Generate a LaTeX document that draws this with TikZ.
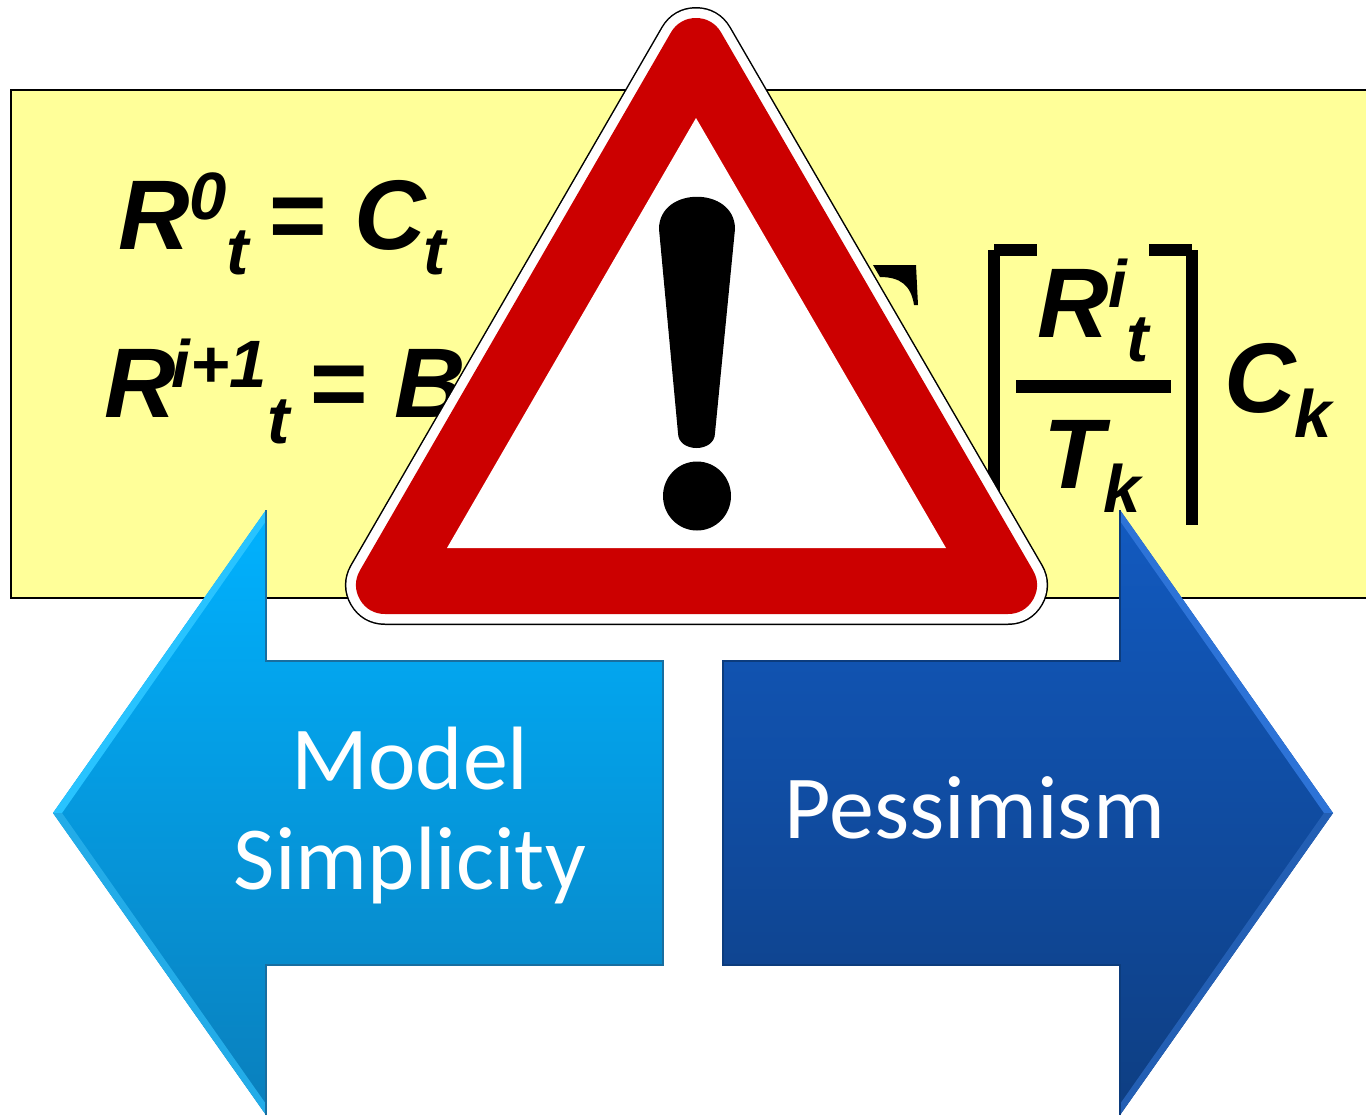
\documentclass[tikz,border=0pt]{standalone}
\usepackage{fontspec}
\setmainfont{Liberation Sans}
\newfontfamily\arrowfont{Carlito}
\usetikzlibrary{positioning}
\definecolor{notepale}{RGB}{255,255,153}
\definecolor{signred}{RGB}{204,0,0}
\definecolor{skytop}{RGB}{0,178,255}
\definecolor{skymid}{RGB}{3,172,250}
\definecolor{skybot}{RGB}{10,127,188}
\definecolor{skylite}{RGB}{40,195,255}
\definecolor{skyshade}{RGB}{35,172,232}
\definecolor{skydark}{RGB}{24,110,160}
\definecolor{navytop}{RGB}{18,90,192}
\definecolor{navymid}{RGB}{17,80,170}
\definecolor{navybot}{RGB}{14,62,130}
\definecolor{navylite}{RGB}{45,115,215}
\definecolor{navyshade}{RGB}{35,95,180}
\definecolor{navydark}{RGB}{12,60,125}

\begin{document}
\begin{tikzpicture}[x=0.5pt, y=-0.5pt,
      eqbig/.style={anchor=base west, inner sep=0pt, font=\fontsize{49.5}{50}\selectfont\bfseries\itshape},
      eqsmall/.style={anchor=base west, inner sep=0pt, font=\fontsize{33.5}{34}\selectfont\bfseries\itshape},
      arrowlabel/.style={text=white, align=center, inner sep=0pt, font=\fontsize{45}{50}\selectfont\arrowfont},
      inkbar/.style={line width=6pt},
      signedge/.style={line width=#1, line join=round}]
    \useasboundingbox (0,0) rectangle (1366,1115);
    % note behind everything
    \fill[notepale] (11,90) rectangle (1366,598);
    \draw[line width=1pt] (1366,90) -- (11,90) -- (11,598) -- (1366,598);

    % left formulas
    \node[eqbig] (rzero) at (118.5,249) {R};
    \node[eqsmall] (rzerosup) at (189,219) {0};
    \node[eqsmall] (rzerosub) at (226,274) {t};
    \node[eqbig] (eqzero) at (267,249) {=};
    \node[eqbig] (czero) at (354,249) {C};
    \node[eqsmall] (czerosub) at (423,274) {t};
    \node[eqbig] (rnext) at (104,417) {R};
    \node[eqsmall] (rnextsup) at (171,387) {i+1};
    \node[eqsmall] (rnextsub) at (267,443) {t};
    \node[eqbig] (eqnext) at (308,417) {=};
    \node[eqbig] (bnext) at (394,417) {B};

    % piece of the sum
    \fill (873,265) -- (916,265) -- (918,305) -- (914,305)
      .. controls (911,285) and (900,277) .. (880,277) -- cycle;

    % brackets and fraction
    \draw[inkbar] (994,250) -- (1037,250);
    \draw[inkbar] (994,250) -- (994,525);
    \draw[inkbar] (1149,250) -- (1192,250);
    \draw[inkbar] (1192,250) -- (1192,525);
    \draw[line width=6.5pt] (1016,386.5) -- (1171,386.5);
    \node[eqbig] (rfrac) at (1037,337) {R};
    \node[eqsmall] (rfracsup) at (1108,307) {i};
    \node[eqsmall] (rfracsub) at (1126,361) {t};
    \node[eqbig] (tfrac) at (1043,488) {T};
    \node[eqsmall] (tfracsub) at (1103,512) {k};
    \node[eqbig] (cfrac) at (1224,412) {C};
    \node[eqsmall] (cfracsub) at (1294,437) {k};

    % left arrow
    \shade[top color=skytop, middle color=skymid, bottom color=skybot]
      (53,813) -- (266,510) -- (266,661) -- (663,661) -- (663,965)
      -- (266,965) -- (266,1115) -- cycle;
    \fill[skylite] (53,813) -- (266,510) -- (266,521) -- (62,813) -- cycle;
    \fill[skyshade] (53,813) -- (62,813) -- (266,1104) -- (266,1115) -- cycle;
    \draw[skydark, line width=1pt] (266,510) -- (266,661) -- (663,661) -- (663,965) -- (266,965) -- (266,1115);

    % right arrow
    \shade[top color=navytop, middle color=navymid, bottom color=navybot]
      (1333,813) -- (1120,510) -- (1120,661) -- (723,661) -- (723,965)
      -- (1120,965) -- (1120,1115) -- cycle;
    \fill[navylite] (1333,813) -- (1120,510) -- (1120,521) -- (1324,813) -- cycle;
    \fill[navyshade] (1333,813) -- (1324,813) -- (1120,1104) -- (1120,1115) -- cycle;
    \draw[navydark, line width=1pt] (1120,510) -- (1120,661) -- (723,661) -- (723,965) -- (1120,965) -- (1120,1115);

    \node[arrowlabel] (simple) at (410,815.5) {Model\\Simplicity};
    \node[arrowlabel, anchor=base] (pess) at (975,838) {Pessimism};

    % warning sign
    \path[draw=black, fill=black, signedge=40pt] (696,47) -- (1008,585) -- (385,585) -- cycle;
    \path[draw=white, fill=white, signedge=38.5pt] (696,47) -- (1008,585) -- (385,585) -- cycle;
    \path[draw=signred, fill=signred, signedge=29pt] (696,47) -- (1008,585) -- (385,585) -- cycle;
    \fill[white] (696,118) -- (946,548) -- (447,548) -- cycle;
    \fill (659,229) .. controls (659,186) and (735,186) .. (735,229)
      -- (715,433) .. controls (715,453) and (678,453) .. (678,433) -- cycle;
    \fill (697,496) ellipse [x radius=34, y radius=34.5];
  \end{tikzpicture}
\end{document}
